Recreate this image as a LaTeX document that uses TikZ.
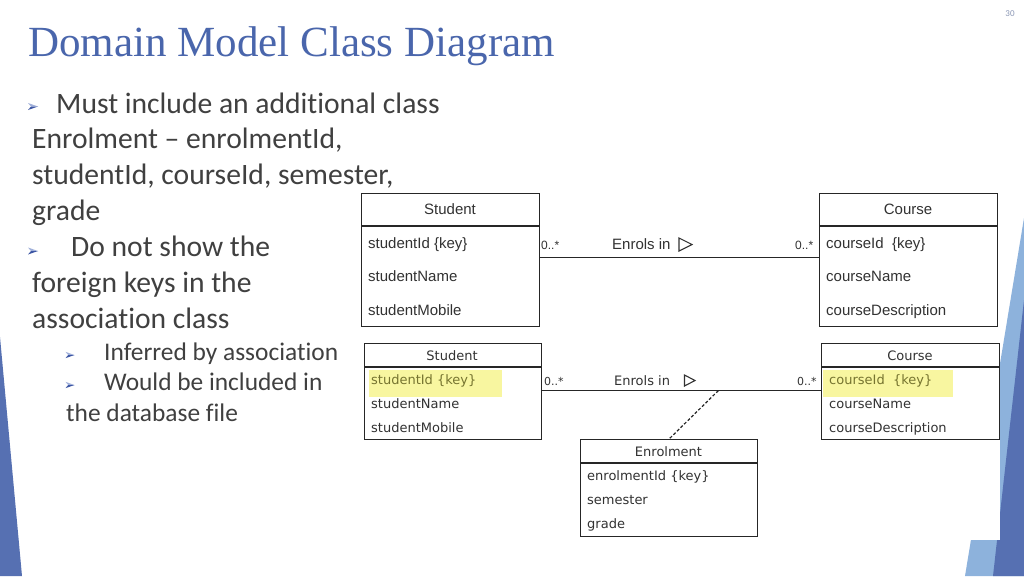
\documentclass[tikz,border=0pt]{standalone}
\usepackage{fontspec}
\setmainfont{Carlito}[Ligatures=NoCommon]
\newfontfamily\titlefont{Liberation Serif}
\newfontfamily\umlfontA{Liberation Sans}
\newfontfamily\umlfontB{DejaVu Sans}
\usetikzlibrary{calc}
\definecolor{titleblue}{RGB}{74,102,172}
\definecolor{bodygray}{RGB}{64,64,64}
\definecolor{boxline}{RGB}{38,38,38}
\definecolor{umltext}{RGB}{50,50,50}
\definecolor{hlyellow}{RGB}{248,246,160}
\definecolor{hltext}{RGB}{118,116,48}
\definecolor{decodark}{RGB}{86,112,178}
\definecolor{decolight}{RGB}{141,178,220}
\definecolor{bulletlight}{RGB}{160,176,218}
\definecolor{bulletdark}{RGB}{60,86,164}
\definecolor{pagenum}{RGB}{140,152,182}
\newcommand\slidebullet[3]{%
  \begin{scope}[shift={(#1,#2)},scale=#3]
    \fill[bulletlight] (-5,-3.5) -- (5,0) -- (-2,0) -- cycle;
    \fill[bulletdark] (-5,3.5) -- (5,0) -- (-2,0) -- cycle;
  \end{scope}}
\begin{document}
\begin{tikzpicture}[x=1pt,y=-1pt,
  box/.style={draw=boxline, line width=1.1pt, fill=white, inner sep=0pt, anchor=north west},
  body/.style={font=\fontsize{29.6}{36}\selectfont, text=bodygray, inner sep=0pt, anchor=base west},
  subbody/.style={font=\fontsize{25.4}{30}\selectfont, text=bodygray, inner sep=0pt, anchor=base west},
  attrA/.style={font=\umlfontA\fontsize{15}{18}\selectfont, text=umltext, inner sep=0pt, anchor=west, text height=10.7pt, text depth=0pt},
  headA/.style={attrA, anchor=center},
  multA/.style={font=\umlfontA\fontsize{12}{14}\selectfont, text=umltext, inner sep=0pt, anchor=west, text height=8.6pt, text depth=0pt},
  attrB/.style={font=\umlfontB\fontsize{13}{16}\selectfont, text=umltext, inner sep=0pt, anchor=west, text height=9.5pt, text depth=0pt},
  headB/.style={attrB, anchor=center},
  multB/.style={font=\umlfontB\fontsize{11}{13}\selectfont, text=umltext, inner sep=0pt, anchor=west, text height=8pt, text depth=0pt},
  hl/.style={fill=hlyellow, draw=none},
  assoc/.style={draw=boxline, line width=1.1pt},
  dirarrow/.style={draw=umltext, line width=1.1pt, line join=miter}
]
\useasboundingbox (0,0) rectangle (1024,576);
\fill[white] (0,0) rectangle (1024,576);

% slide decorations
\fill[decodark] (0,337) -- (22,576) -- (0,576) -- cycle;
\fill[decolight] (1024,218) -- (965,576) -- (1024,576) -- cycle;
\fill[decodark] (1024,300) -- (993,576) -- (1024,576) -- cycle;
\fill[white] (358,336) rectangle (1000,540);

% page number
\node[font=\fontsize{9}{10}\selectfont, text=pagenum, inner sep=0pt] (pg) at (1010,14) {30};

% title
\node[font=\titlefont\fontsize{43}{50}\selectfont, text=titleblue, inner sep=0pt, anchor=base west] (title) at (28,56) {Domain Model Class Diagram};

% bullet text
\slidebullet{33}{106.5}{1}
\node[body] (l1) at (56,113.3) {Must include an additional class};
\node[body] (l2) at (32,148.3) {Enrolment -- enrolmentId,};
\node[body] (l3) at (32,184) {studentId, courseId, semester,};
\node[body] (l4) at (32,220) {grade};
\slidebullet{33}{251}{1}
\node[body] (l5) at (71,256.7) {Do not show the};
\node[body] (l6) at (32,292) {foreign keys in the};
\node[body] (l7) at (32,328) {association class};
\slidebullet{70}{355}{0.9}
\node[subbody] (s1t) at (104,360.7) {Inferred by association};
\slidebullet{70}{385}{0.9}
\node[subbody] (s2t) at (104,390.7) {Would be included in};
\node[subbody] (s3t) at (66,421.7) {the database file};

% ---------- top diagram ----------
\node[box, minimum width=178pt, minimum height=133pt] (stu) at (361,193) {};
\draw[boxline, line width=1.1pt] ([yshift=-33pt]stu.north west) -- ([yshift=-33pt]stu.north east);
\node[headA] (stuh) at (450,209.5) {Student};
\node[attrA] (stua) at (368,243) {studentId \{key\}};
\node[attrA] (stub) at (368,276.5) {studentName};
\node[attrA] (stuc) at (368,310) {studentMobile};

\node[box, minimum width=178pt, minimum height=133pt] (cou) at (819,193) {};
\draw[boxline, line width=1.1pt] ([yshift=-33pt]cou.north west) -- ([yshift=-33pt]cou.north east);
\node[headA] (couh) at (908,209.5) {Course};
\node[attrA] (coua) at (826,243) {courseId~ \{key\}};
\node[attrA] (coub) at (826,276.5) {courseName};
\node[attrA] (couc) at (826,310) {courseDescription};

\draw[assoc] ([yshift=2.5pt]stu.east) -- ([yshift=2.5pt]cou.west);
\node[multA] (m1) at (541,245.5) {0..*};
\node[multA] (m2) at (795,245.5) {0..*};
\node[attrA] (r1) at (612,244) {Enrols in};
\draw[dirarrow] (679,238) -- (692,244.5) -- (679,251) -- cycle;

% ---------- bottom diagram ----------
\node[box, minimum width=177pt, minimum height=96pt] (stu2) at (364,343) {};
\draw[boxline, line width=1.1pt] ([yshift=-24pt]stu2.north west) -- ([yshift=-24pt]stu2.north east);
\fill[hl] (369,370) rectangle (502,397);
\node[headB] (stu2h) at (452,355.5) {Student};
\node[attrB, text=hltext] (stu2a) at (371,380) {studentId \{key\}};
\node[attrB] (stu2b) at (371,404) {studentName};
\node[attrB] (stu2c) at (371,427.5) {studentMobile};

\node[box, minimum width=178pt, minimum height=96pt] (cou2) at (821,343) {};
\draw[boxline, line width=1.1pt] ([yshift=-24pt]cou2.north west) -- ([yshift=-24pt]cou2.north east);
\fill[hl] (823,370) rectangle (953,397);
\node[headB] (cou2h) at (910,355.5) {Course};
\node[attrB, text=hltext] (cou2a) at (829,380) {courseId~ \{key\}};
\node[attrB] (cou2b) at (829,404) {courseName};
\node[attrB] (cou2c) at (829,427.5) {courseDescription};

\node[box, minimum width=177pt, minimum height=97pt] (enr) at (580,439) {};
\draw[boxline, line width=1.1pt] ([yshift=-24pt]enr.north west) -- ([yshift=-24pt]enr.north east);
\node[headB] (enrh) at (668.5,451.5) {Enrolment};
\node[attrB] (enra) at (587,476) {enrolmentId \{key\}};
\node[attrB] (enrb) at (587,499.5) {semester};
\node[attrB] (enrc) at (587,523.5) {grade};

\draw[assoc] ([yshift=1pt]stu2.east) -- coordinate[pos=0.632] (am) ([yshift=1pt]cou2.west);
\draw[boxline, line width=1.2pt, dash pattern=on 3pt off 2pt] (am) -- (enr.north);
\node[multB] (m3) at (544,381.5) {0..*};
\node[multB] (m4) at (797,381.5) {0..*};
\node[attrB] (r2) at (614,380.5) {Enrols in};
\draw[dirarrow] (684.5,375) -- (695,380.5) -- (684.5,386) -- cycle;
\end{tikzpicture}
\end{document}
